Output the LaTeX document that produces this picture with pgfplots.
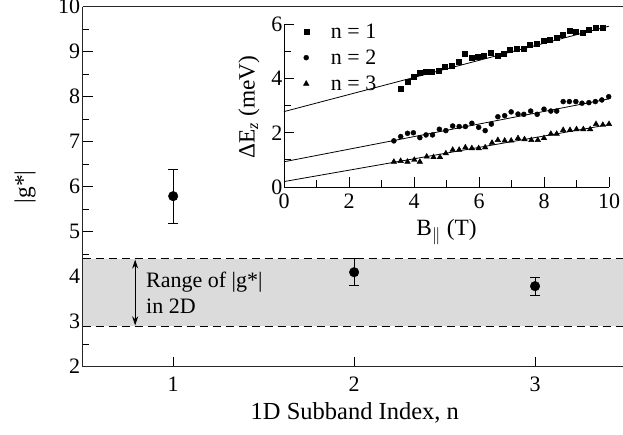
\documentclass[border=0pt]{standalone}
\usepackage{fontspec}
\setmainfont{Liberation Serif}
\usepackage{pgfplots}
\pgfplotsset{compat=1.18}
\usetikzlibrary{arrows.meta}
\definecolor{band}{gray}{0.86}
\newcommand{\tfont}{\fontsize{22}{26}\selectfont}
\newcommand{\lfont}{\fontsize{23.3}{28}\selectfont}
\newcommand{\xlfont}{\fontsize{24.5}{29}\selectfont}
\begin{document}
\begin{tikzpicture}
\begin{axis}[name=main, at={(0,0)}, anchor=south west, scale only axis,
  width=541pt, height=360pt,
  xmin=0.5, xmax=3.49, ymin=2, ymax=10,
  axis lines*=left, tick align=inside,
  axis line style={line width=0.9pt, black!85},
  every tick/.style={black, line width=0.8pt},
  xtick={1,2,3}, ytick={2,3,...,10}, minor y tick num=1,
  major tick length=10pt, minor tick length=6pt,
  /pgf/number format/assume math mode=true,
  xticklabel style={font=\tfont, yshift=-7pt},
  yticklabel style={font=\tfont, xshift=1pt},
  xlabel={\xlfont 1D Subband Index, n},
  ylabel={\lfont |g*|},
  xlabel style={font=\xlfont, at={(axis description cs:0.503,-0.148)}, anchor=base},
  ylabel style={font=\lfont, at={(axis description cs:-0.1067,0.5)}, anchor=center},
  clip=false,
]
\addplot[draw=none, fill=band, forget plot] coordinates {(0.5,2.9) (3.49,2.9) (3.49,4.4) (0.5,4.4)} -- cycle;
\addplot[dashed, dash pattern=on 8pt off 5pt, line width=0.8pt, forget plot] coordinates {(0.5,2.9) (3.49,2.9)};
\addplot[dashed, dash pattern=on 8pt off 5pt, line width=0.8pt, forget plot] coordinates {(0.5,4.4) (3.49,4.4)};
\addplot[only marks, mark=*, mark size=4.8pt, black,
  error bars/.cd, y dir=both, y explicit,
  error bar style={line width=0.9pt},
  error mark options={rotate=90, mark size=5pt, line width=0.9pt}]
  coordinates {
  (1,5.79) +- (0,0.6)
  (2,4.10) +- (0,0.3)
  (3,3.79) +- (0,0.2)
  };
\draw[line width=0.9pt, black!85] (rel axis cs:0,1) -- (rel axis cs:1,1);
\draw[{Stealth[length=9pt,width=6pt]}-{Stealth[length=9pt,width=6pt]}, line width=0.8pt] (axis cs:0.79,2.92) -- (axis cs:0.79,4.38);
\node[anchor=base west, inner sep=0pt, font=\fontsize{22}{26}\selectfont] at (axis cs:0.85,3.77) {Range of |g*|};
\node[anchor=base west, inner sep=0pt, font=\fontsize{22}{26}\selectfont] at (axis cs:0.85,3.19) {in 2D};
\end{axis}

\begin{axis}[name=inset, at={(201.3pt,179.7pt)}, anchor=south west, scale only axis,
  width=325pt, height=162.7pt,
  xmin=0, xmax=10, ymin=0, ymax=6,
  axis lines*=left, tick align=inside,
  axis line style={line width=0.9pt, black},
  every tick/.style={black, line width=0.8pt},
  xtick={0,2,...,10}, ytick={0,2,4,6}, minor x tick num=1, minor y tick num=1,
  major tick length=10pt, minor tick length=7pt,
  /pgf/number format/assume math mode=true,
  xticklabel style={font=\tfont, yshift=-3pt},
  yticklabel style={font=\tfont, xshift=2pt},
  xlabel={\lfont B$_{\parallel}$ (T)},
  ylabel={\lfont ΔE\textsubscript{\textit{z}} (meV)},
  xlabel style={font=\lfont, at={(axis description cs:0.5,-0.30)}, anchor=base},
  ylabel style={font=\lfont, at={(axis description cs:-0.108,0.49)}, anchor=center},
  legend style={draw=none, fill=none, at={(axis description cs:0.05,1.03)}, anchor=north west,
    font=\fontsize{22}{25}\selectfont, row sep=6pt, column sep=20pt},
  legend cell align=left,
  clip=false,
]
\addplot[only marks, mark=square*, mark size=2.5pt, black] coordinates {
(3.59,3.64)(3.80,3.89)(3.98,4.05)(4.16,4.20)(4.35,4.25)(4.54,4.25)(4.75,4.28)(4.95,4.44)
(5.16,4.46)(5.38,4.62)(5.57,4.91)(5.77,4.75)(5.96,4.81)(6.15,4.86)(6.36,4.96)(6.56,4.86)
(6.75,4.93)(6.95,5.06)(7.16,5.09)(7.36,5.10)(7.57,5.24)(7.78,5.30)(7.98,5.38)(8.18,5.45)
(8.39,5.51)(8.59,5.63)(8.78,5.76)(8.98,5.73)(9.19,5.69)(9.39,5.80)(9.60,5.86)(9.81,5.87)
};
\addlegendentry{n = 1}
\addplot[only marks, mark=*, mark size=2.5pt, black] coordinates {
(3.38,1.70)(3.59,1.86)(3.80,1.98)(3.98,2.00)(4.18,1.82)(4.37,1.92)(4.57,1.92)(4.78,2.13)
(4.98,2.08)(5.19,2.25)(5.39,2.23)(5.58,2.23)(5.78,2.35)(5.99,2.20)(6.19,2.08)(6.38,2.32)
(6.58,2.59)(6.79,2.63)(6.99,2.77)(7.20,2.69)(7.38,2.68)(7.59,2.80)(7.79,2.68)(8.00,2.87)
(8.21,2.80)(8.39,2.80)(8.59,3.15)(8.78,3.15)(8.98,3.15)(9.17,3.09)(9.38,3.11)(9.58,3.15)
(9.78,3.21)(9.99,3.33)
};
\addlegendentry{n = 2}
\addplot[only marks, mark=triangle*, mark size=3.2pt, black] coordinates {
(3.38,0.93)(3.59,0.96)(3.80,0.93)(4.01,1.00)(4.18,0.93)(4.39,1.12)(4.60,1.10)(4.80,1.10)
(4.98,1.24)(5.19,1.37)(5.39,1.37)(5.58,1.46)(5.78,1.43)(5.99,1.43)(6.19,1.46)(6.40,1.63)
(6.58,1.73)(6.79,1.71)(6.99,1.71)(7.20,1.80)(7.40,1.76)(7.61,1.73)(7.81,1.73)(8.00,1.80)
(8.21,1.96)(8.39,1.96)(8.59,2.10)(8.80,2.10)(9.00,2.13)(9.21,2.13)(9.42,2.13)(9.60,2.32)
(9.81,2.29)(10.0,2.32)
};
\addlegendentry{n = 3}
\addplot[black, line width=0.8pt, forget plot] coordinates {(0,2.78) (10,5.93)};
\addplot[black, line width=0.8pt, forget plot] coordinates {(0,0.93) (10,3.25)};
\addplot[black, line width=0.8pt, forget plot] coordinates {(0,0.20) (10,2.30)};
\end{axis}
\pgfresetboundingbox
\path[use as bounding box] (-82.7pt,-68.3pt) rectangle (540.3pt,366.7pt);
\end{tikzpicture}
\end{document}
